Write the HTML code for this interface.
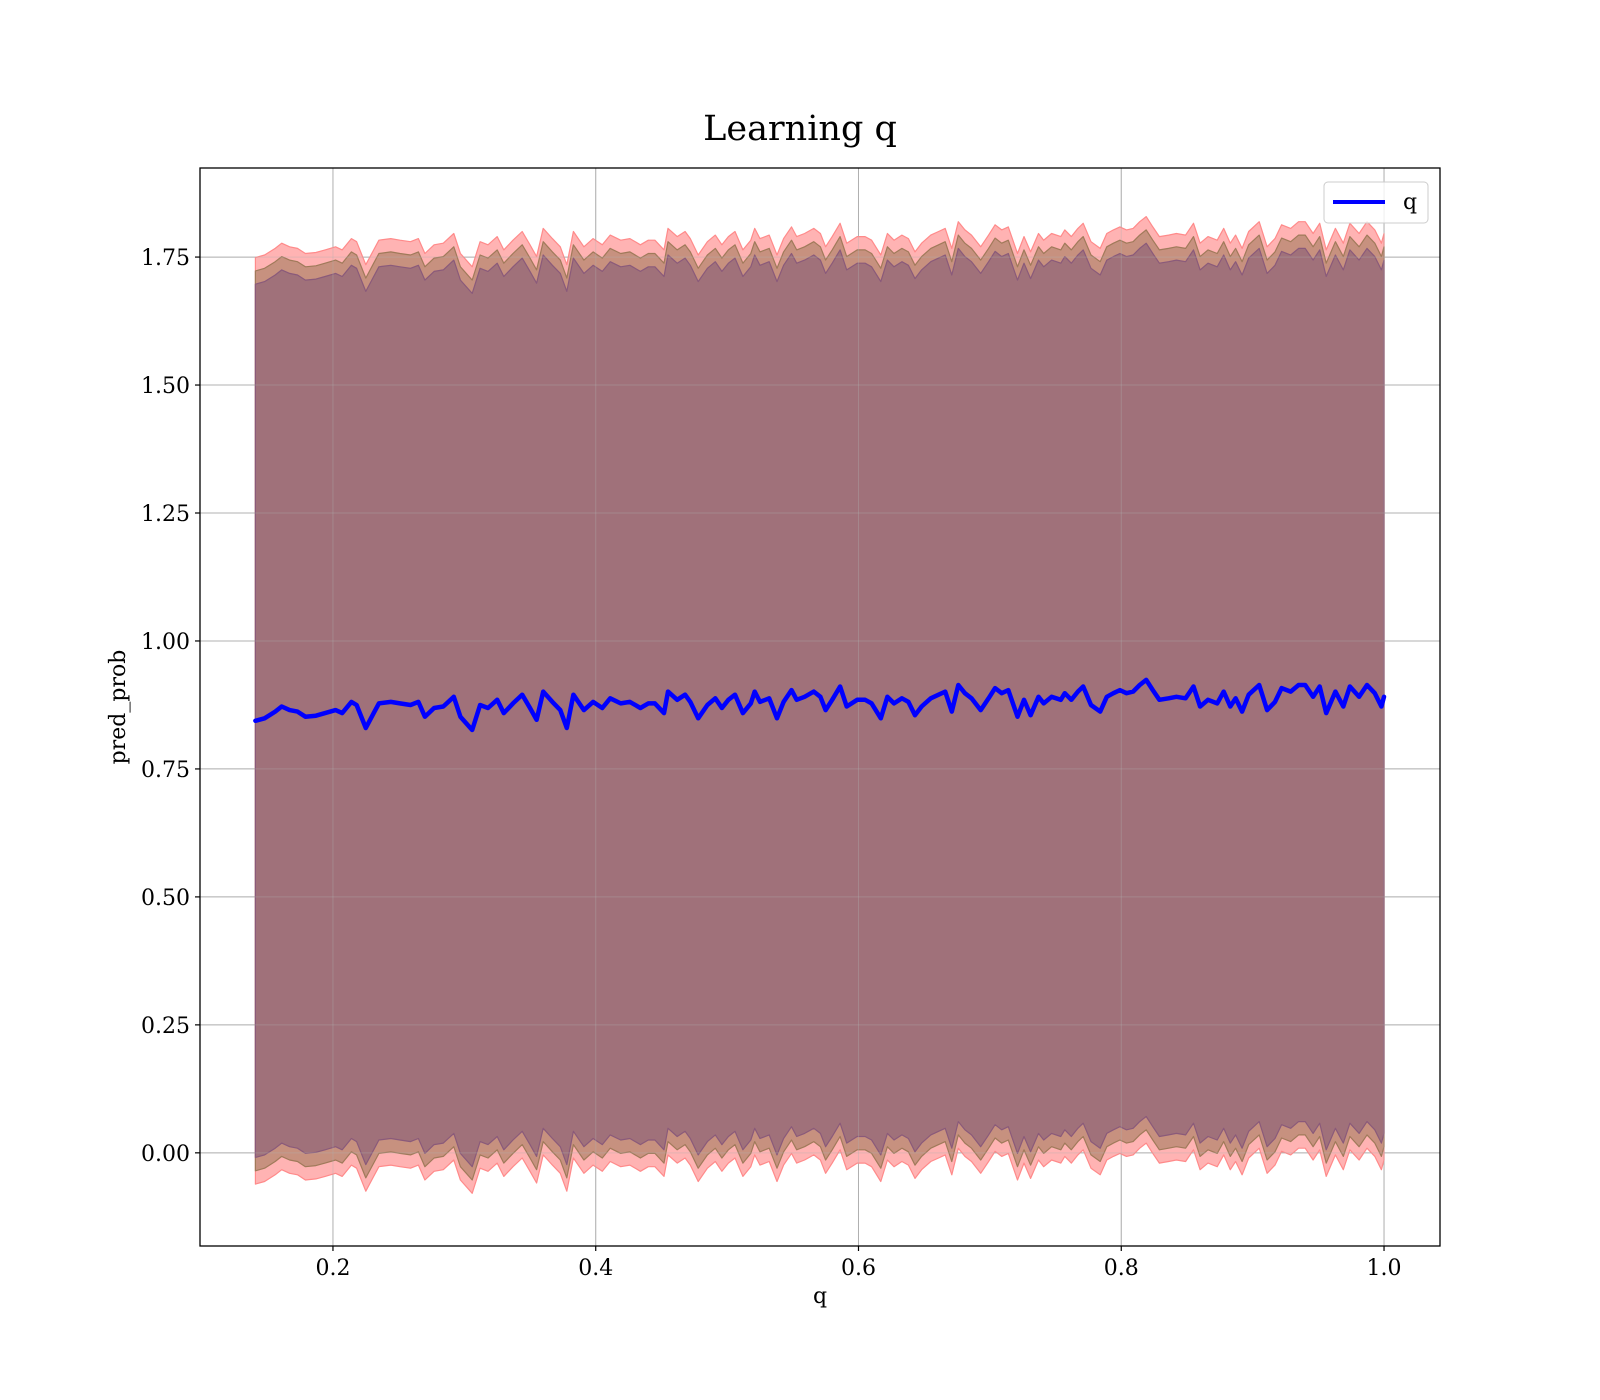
<!DOCTYPE html>
<html><head><meta charset="utf-8"><style>
html,body{margin:0;padding:0;background:#fff}
svg{display:block}
text{font-family:"DejaVu Serif","Liberation Serif",serif;fill:#000}
</style></head><body>
<svg id="chart" width="1600" height="1400" viewBox="0 0 1600 1400" xmlns="http://www.w3.org/2000/svg">
<rect width="1600" height="1400" fill="#fff"/>
<text x="800" y="140" text-anchor="middle" font-size="35">Learning q</text>
<g id="plot"></g>
</svg>
<script>
const qValues=[0.141,0.148,0.156,0.161,0.167,0.173,0.179,0.187,0.194,0.202,0.207,0.214,0.218,0.225,0.231,0.235,0.244,0.251,0.259,0.265,0.270,0.277,0.284,0.292,0.297,0.306,0.312,0.318,0.325,0.330,0.337,0.344,0.350,0.355,0.360,0.367,0.373,0.378,0.383,0.391,0.398,0.405,0.411,0.419,0.426,0.434,0.440,
0.445,0.452,0.455,0.462,0.468,0.472,0.478,0.485,0.491,0.496,0.501,0.506,0.512,0.518,0.521,0.525,0.532,0.538,0.543,0.549,0.553,0.559,0.566,0.571,0.575,0.580,0.586,0.591,0.599,0.605,0.610,0.617,0.622,0.627,0.633,0.638,0.643,0.648,0.655,0.661,0.666,0.671,0.676,0.681,0.686,0.693,0.699,0.704,0.709,0.714,0.721,0.726,0.731,0.737,
0.741,0.747,0.754,0.757,0.762,0.767,0.771,0.777,0.784,0.789,0.794,0.799,0.804,0.809,0.814,0.819,0.824,0.829,0.836,0.842,0.849,0.855,0.860,0.866,0.873,0.878,0.883,0.887,0.892,0.897,0.905,0.911,0.917,0.922,0.929,0.935,0.940,0.946,0.951,0.956,0.963,0.969,0.974,0.981,0.987,0.993,0.998,1.0];
const meanValues=[0.844,0.849,0.862,0.872,0.865,0.862,0.852,0.854,0.859,0.865,0.859,0.881,0.875,0.830,0.859,0.878,0.881,0.878,0.875,0.881,0.852,0.869,0.872,0.891,0.852,0.826,0.875,0.869,0.885,0.859,0.878,0.895,0.869,0.846,0.901,0.881,0.865,0.830,0.895,0.865,0.881,0.869,0.888,0.878,0.881,0.869,0.878,
0.878,0.859,0.901,0.885,0.895,0.881,0.849,0.875,0.888,0.869,0.885,0.895,0.859,0.878,0.901,0.881,0.888,0.849,0.881,0.904,0.885,0.891,0.901,0.891,0.865,0.885,0.911,0.872,0.885,0.885,0.878,0.849,0.891,0.878,0.888,0.881,0.855,0.872,0.888,0.895,0.901,0.862,0.914,0.898,0.888,0.865,0.888,0.908,0.898,0.904,0.852,0.885,0.855,0.891,
0.878,0.891,0.885,0.898,0.885,0.901,0.911,0.875,0.862,0.891,0.898,0.904,0.898,0.901,0.914,0.924,0.904,0.885,0.888,0.891,0.888,0.911,0.872,0.885,0.878,0.901,0.872,0.888,0.862,0.895,0.914,0.865,0.881,0.908,0.901,0.914,0.914,0.891,0.911,0.859,0.901,0.872,0.911,0.891,0.914,0.898,0.872,0.891];
const bandWidths=[0.905,0.879,0.853];
const xTicks=[0.2,0.4,0.6,0.8,1.0];
const xTickLabels=["0.2","0.4","0.6","0.8","1.0"];
const yTicks=[0,0.25,0.5,0.75,1.0,1.25,1.5,1.75];
const yTickLabels=["0.00","0.25","0.50","0.75","1.00","1.25","1.50","1.75"];

const L=200,R=1440,T=168,B=1246;
const X0=0.0988,X1=1.0426,Y0=-0.182,Y1=1.924;
const sx=v=>L+(v-X0)/(X1-X0)*(R-L);
const sy=v=>B-(v-Y0)/(Y1-Y0)*(B-T);
const NS="http://www.w3.org/2000/svg";
const plot=document.getElementById('plot');
function mk(tag,attrs,parent){const e=document.createElementNS(NS,tag);for(const k in attrs)e.setAttribute(k,attrs[k]);(parent||plot).appendChild(e);return e;}

// grid
xTicks.forEach((t,i)=>{
  const g=mk('line',{x1:sx(t),x2:sx(t),y1:T,y2:B,stroke:'#b0b0b0','stroke-width':1});
  
  
});
yTicks.forEach((t,i)=>{
  const g=mk('line',{x1:L,x2:R,y1:sy(t),y2:sy(t),stroke:'#b0b0b0','stroke-width':1});
  
  
});

// bands
const fills=['#ffb3b3','#c7917f','#a0717a'];
const edges=['#ff8a8a','#a07a5a','#8a5a7a'];
const bandNames=['band-outer','band-middle','band-inner'];
bandWidths.forEach((w,k)=>{
  let up=qValues.map((q,i)=>sx(q).toFixed(1)+','+sy(meanValues[i]+w).toFixed(1));
  let lo=qValues.map((q,i)=>sx(q).toFixed(1)+','+sy(meanValues[i]-w).toFixed(1)).reverse();
  const p=mk('polygon',{points:up.concat(lo).join(' '),fill:fills[k],stroke:edges[k],'stroke-width':1.2,'stroke-linejoin':'round'});
  
  
});
// grid overlay on fills (matplotlib draws grid beneath; faint visible through alpha)
xTicks.forEach(t=>{
  const g=mk('line',{x1:sx(t),x2:sx(t),y1:T,y2:B,stroke:'#b0b0b0','stroke-width':1,opacity:0.35});
  
  
});
yTicks.forEach(t=>{
  const g=mk('line',{x1:L,x2:R,y1:sy(t),y2:sy(t),stroke:'#b0b0b0','stroke-width':1,opacity:0.35});
  
  
});

// mean line
const line=mk('polyline',{points:qValues.map((q,i)=>sx(q).toFixed(1)+','+sy(meanValues[i]).toFixed(1)).join(' '),fill:'none',stroke:'#0000ff','stroke-width':4.5,'stroke-linejoin':'round','stroke-linecap':'round'});



// axes frame
const fr=mk('rect',{x:L,y:T,width:R-L,height:B-T,fill:'none',stroke:'#000','stroke-width':1.3});



// ticks
xTicks.forEach((t,i)=>{
  const tk=mk('line',{x1:sx(t),x2:sx(t),y1:B,y2:B+5,stroke:'#000','stroke-width':1.2});
  
  
  const tx=mk('text',{x:sx(t),y:B+29,'text-anchor':'middle','font-size':22});
  tx.textContent=xTickLabels[i];
  
  
});
yTicks.forEach((t,i)=>{
  const tk=mk('line',{x1:L-5,x2:L,y1:sy(t),y2:sy(t),stroke:'#000','stroke-width':1.2});
  
  
  const tx=mk('text',{x:L-10,y:sy(t)+8,'text-anchor':'end','font-size':22});
  tx.textContent=yTickLabels[i];
  
  
});

// axis labels
const xl=mk('text',{x:820,y:1303,'text-anchor':'middle','font-size':22});
xl.textContent='q';


const yl=mk('text',{x:0,y:0,'text-anchor':'middle','font-size':22,transform:'translate(125,707) rotate(-90)'});
yl.textContent='pred_prob';



// legend
const lg=mk('g',{});


const lb=mk('rect',{x:1324,y:182,width:104,height:41,rx:4,fill:'#fff','fill-opacity':0.8,stroke:'#cccccc','stroke-width':1},lg);


const ll=mk('line',{x1:1333,x2:1385,y1:202,y2:202,stroke:'#0000ff','stroke-width':4},lg);


const lt=mk('text',{x:1403,y:209,'font-size':22},lg);
lt.textContent='q';


</script>
</body></html>
